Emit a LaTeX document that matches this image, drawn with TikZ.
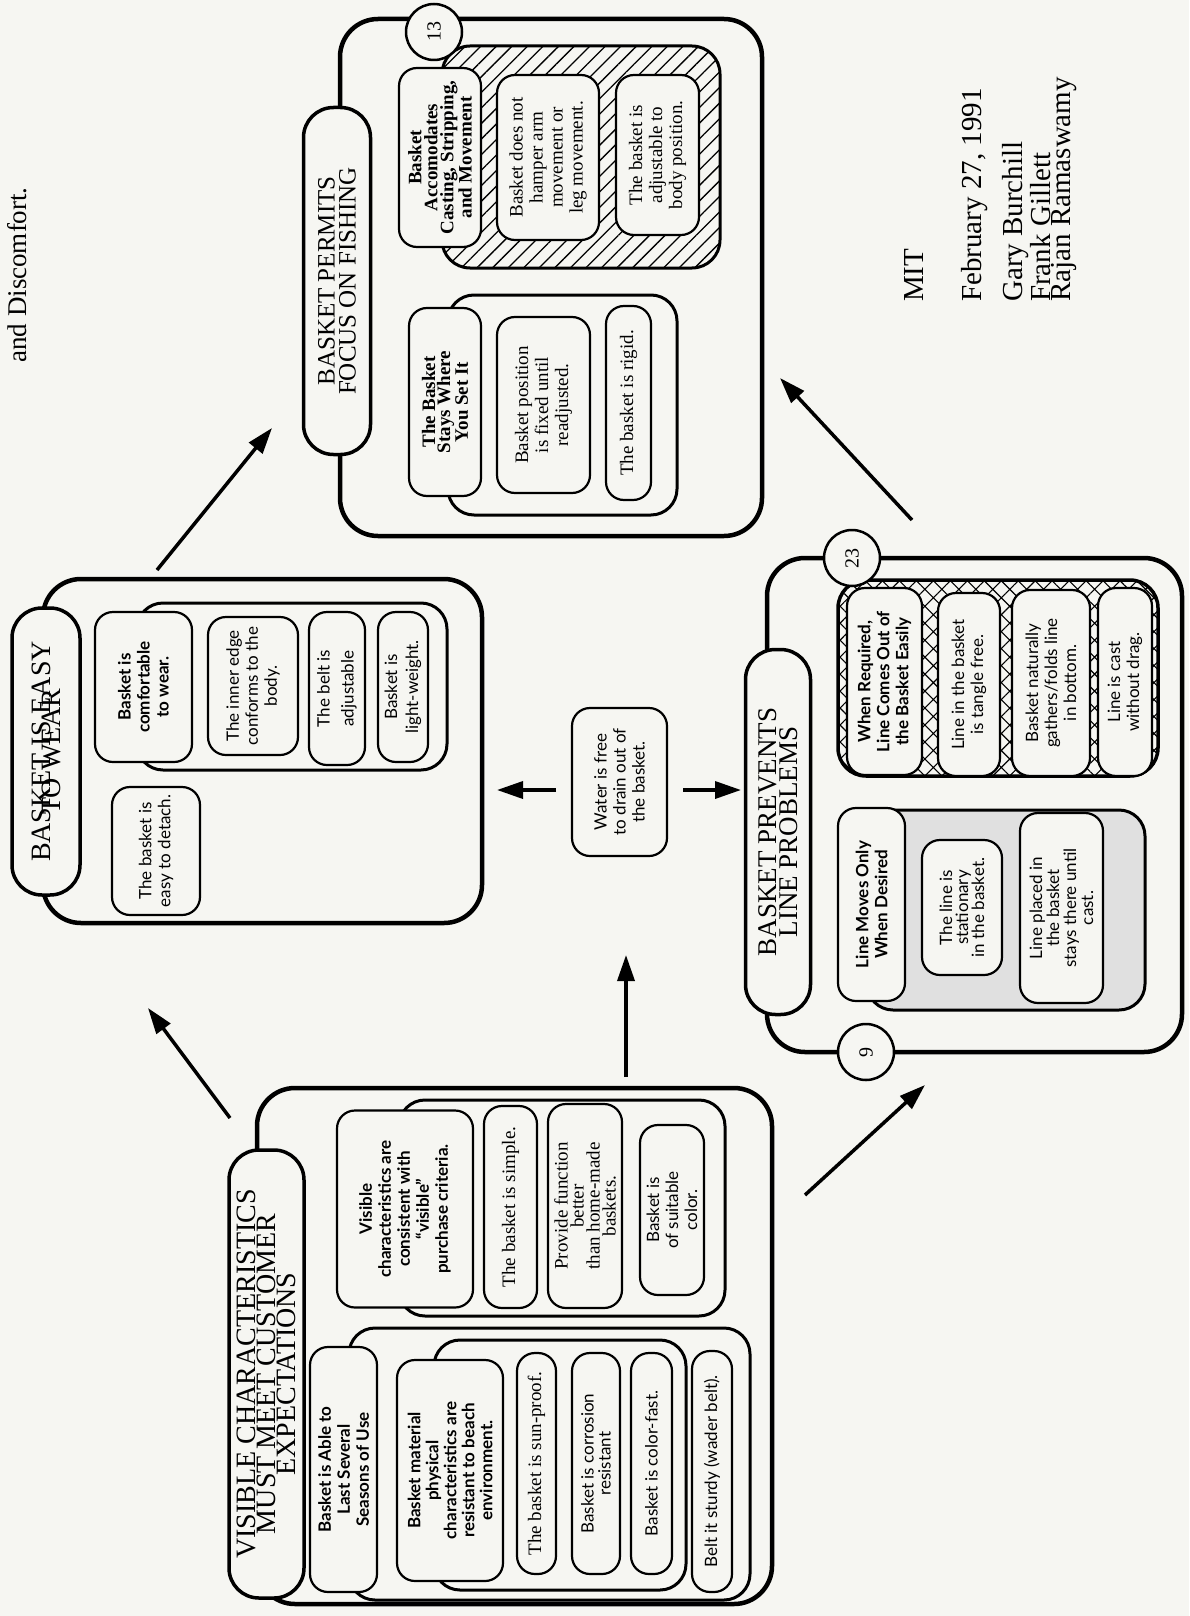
\documentclass[tikz,border=0pt]{standalone}
\usepackage{fontspec}
\setmainfont{Liberation Serif}
\setsansfont{Lato}
\usetikzlibrary{arrows.meta,patterns.meta}
\definecolor{paper}{RGB}{246,246,242}

\begin{document}
\begin{tikzpicture}[
    x=1pt, y=-1pt,
    outerbox/.style={draw, line width=4.5pt, rounded corners=38pt},
    groupbox/.style={draw, line width=3pt, rounded corners=26pt, fill=paper},
    titlebox/.style={draw, line width=3.5pt, rounded corners=30pt, fill=paper, rotate=90,
                     align=center, inner sep=2pt, font=\fontsize{25}{21}\selectfont},
    itembox/.style={draw, line width=2.2pt, rounded corners=18pt, fill=paper, rotate=90,
                    align=center, inner sep=3pt, font=\sffamily\fontsize{17}{19}\selectfont},
    boldbox/.style={itembox, font=\sffamily\bfseries\fontsize{17}{19}\selectfont},
    serifbox/.style={itembox, font=\fontsize{19}{20}\selectfont},
    serifbold/.style={itembox, font=\bfseries\fontsize{19}{16}\selectfont},
    numbox/.style={draw, circle, line width=2.5pt, fill=paper, minimum size=56pt,
                   rotate=90, font=\fontsize{20}{20}\selectfont},
    arrow/.style={line width=3.5pt, -{Triangle[length=26pt, width=17pt]}}
  ]
\fill[paper] (0,0) rectangle (1189,1616);
\useasboundingbox (0,0) rectangle (1189,1616);

% cut-off heading
\node[rotate=90, font=\fontsize{27}{27}\selectfont] (heading) at (17,275) {and Discomfort.};

% basket permits focus on fishing
\node[outerbox, minimum width=422pt, minimum height=517pt] (permits) at (551,277.5) {};
\node[titlebox, minimum width=347pt, minimum height=67pt] (permitsT) at (337,281)
  {BASKET PERMITS\\FOCUS ON FISHING};
\node[draw, line width=3pt, rounded corners=28pt, minimum width=278pt, minimum height=222pt,
      pattern={Lines[angle=45, distance=11pt, line width=1.3pt]}] (castG) at (581,157) {};
\node[groupbox, minimum width=229pt, minimum height=220pt] (staysG) at (562.5,405) {};
\node[serifbold, minimum width=179pt, minimum height=82pt] (cast) at (440,157.5)
  {Basket\\Accomodates\\Casting, Stripping,\\and Movement};
\node[serifbox, minimum width=165pt, minimum height=102pt] (hamper) at (548,157.5)
  {Basket does not\\hamper arm\\movement or\\leg movement.};
\node[serifbox, minimum width=160pt, minimum height=83pt] (adjbody) at (657.5,155)
  {The basket is\\adjustable to\\body position.};
\node[serifbold, font=\bfseries\fontsize{19}{15}\selectfont, minimum width=188pt, minimum height=72pt]
  (stays) at (445,402) {The Basket\\Stays Where\\You Set It};
\node[serifbox, minimum width=176pt, minimum height=93pt] (fixed) at (543.5,405)
  {Basket position\\is fixed until\\readjusted.};
\node[serifbox, minimum width=194pt, minimum height=45pt] (rigid) at (628.5,403)
  {The basket is rigid.};
\node[numbox] (n13) at (434,32) {13};

% basket is easy to wear
\node[outerbox, minimum width=439pt, minimum height=344pt] (wear) at (262.5,751) {};
\node[titlebox, font=\fontsize{28}{21}\selectfont, minimum width=287pt, minimum height=68pt]
  (wearT) at (46,751.5) {BASKET IS EASY\\[-11pt]TO WEAR};
\node[groupbox, minimum width=310pt, minimum height=167pt] (comfG) at (292,686.5) {};
\node[boldbox, minimum width=150pt, minimum height=97pt] (comf) at (143.5,687)
  {Basket is\\comfortable\\to wear.};
\node[itembox, minimum width=138pt, minimum height=90pt] (edge) at (253,686)
  {The inner edge\\conforms to the\\body.};
\node[itembox, minimum width=153pt, minimum height=56pt] (belt) at (337,688.5)
  {The belt is\\[5pt]adjustable};
\node[itembox, minimum width=150pt, minimum height=50pt] (light) at (403,687)
  {Basket is\\[2pt]light-weight.};
\node[itembox, minimum width=128pt, minimum height=88pt] (detach) at (156,851)
  {The basket is\\easy to detach.};

% water
\node[itembox, minimum width=148pt, minimum height=95pt] (water) at (619.5,782)
  {Water is free\\to drain out of\\the basket.};

% basket prevents line problems
\node[outerbox, minimum width=415pt, minimum height=494pt] (line) at (974.5,805) {};
\node[titlebox, font=\fontsize{27}{21}\selectfont, minimum width=365pt, minimum height=65pt]
  (lineT) at (778,832) {BASKET PREVENTS\\LINE PROBLEMS};
\node[draw, line width=3.5pt, rounded corners=28pt, minimum width=320pt, minimum height=196pt,
      pattern={Hatch[angle=45, distance=12pt, line width=1.1pt]}] (reqG) at (998,678) {};
\node[groupbox, fill=black!12, minimum width=278pt, minimum height=200pt] (movesG) at (1006,910) {};
\node[boldbox, minimum width=187pt, minimum height=75pt] (req) at (884.5,681.5)
  {When Required,\\Line Comes Out of\\the Basket Easily};
\node[itembox, minimum width=183pt, minimum height=62pt] (tangle) at (969,684.5)
  {Line in the basket\\is tangle free.};
\node[itembox, minimum width=186pt, minimum height=78pt] (gather) at (1051,683)
  {Basket naturally\\gathers/folds line\\in bottom.};
\node[itembox, minimum width=188pt, minimum height=54pt] (drag) at (1125,682)
  {Line is cast\\without drag.};
\node[boldbox, minimum width=193pt, minimum height=67pt] (moves) at (871.5,904.5)
  {Line Moves Only\\When Desired};
\node[itembox, font=\sffamily\fontsize{17}{16}\selectfont, minimum width=135pt, minimum height=80pt]
  (still) at (962,907.5) {The line is\\stationary\\in the basket.};
\node[itembox, font=\sffamily\fontsize{17}{17}\selectfont, minimum width=190pt, minimum height=83pt]
  (placed) at (1061.5,908) {Line placed in\\the basket\\stays there until\\cast.};
\node[numbox] (n23) at (852,558) {23};
\node[numbox] (n9) at (866,1052) {9};

% visible characteristics
\node[outerbox, minimum width=515pt, minimum height=516pt] (visible) at (514.5,1346) {};
\node[titlebox, font=\fontsize{28}{20}\selectfont, minimum width=448pt, minimum height=75pt]
  (visibleT) at (266.5,1374) {VISIBLE CHARACTERISTICS\\MUST MEET CUSTOMER\\EXPECTATIONS};
\node[groupbox, minimum width=326pt, minimum height=216pt] (critG) at (562,1208) {};
\node[boldbox, minimum width=197pt, minimum height=136pt] (crit) at (405,1209)
  {Visible\\characteristics are\\consistent with\\``visible''\\purchase criteria.};
\node[serifbox, minimum width=202pt, minimum height=53pt] (simple) at (510.5,1207)
  {The basket is simple.};
\node[serifbox, font=\fontsize{19}{16}\selectfont, minimum width=204pt, minimum height=74pt]
  (homemade) at (585,1206) {Provide function\\better\\than home-made\\baskets.};
\node[itembox, minimum width=170pt, minimum height=64pt] (color) at (672,1210)
  {Basket is\\of suitable\\color.};
\node[groupbox, minimum width=401pt, minimum height=272pt] (seasonsG) at (549.5,1464) {};
\node[boldbox, minimum width=245pt, minimum height=67pt] (seasons) at (343.5,1469.5)
  {Basket is Able to\\Last Several\\Seasons of Use};
\node[groupbox, minimum width=252pt, minimum height=250pt] (beachG) at (560,1465) {};
\node[boldbox, font=\sffamily\bfseries\fontsize{17}{18}\selectfont, minimum width=221pt, minimum height=106pt]
  (beach) at (450,1470.5) {Basket material\\physical\\characteristics are\\resistant to beach\\environment.};
\node[serifbox, minimum width=221pt, minimum height=39pt] (sun) at (536.5,1463.5)
  {The basket is sun-proof.};
\node[itembox, font=\sffamily\fontsize{17}{17}\selectfont, minimum width=221pt, minimum height=48pt]
  (rust) at (596,1463.5) {Basket is corrosion\\resistant};
\node[itembox, minimum width=221pt, minimum height=41pt] (fast) at (651.5,1463.5)
  {Basket is color-fast.};
\node[itembox, minimum width=241pt, minimum height=40pt] (sturdy) at (712,1471.5)
  {Belt it sturdy (wader belt).};

% credits
\node[rotate=90, anchor=north west, align=left, inner sep=1pt,
      font=\fontsize{29}{15}\selectfont] (credits) at (903,303)
  {MIT\\[37pt]February 27, 1991\\[14pt]Gary Burchill\\Frank Gillett\\Rajan Ramaswamy};

% arrows
\coordinate (wearOut) at (157,570);
\coordinate (permitsIn) at (272,428);
\coordinate (lineOut) at (912,520);
\coordinate (permitsIn2) at (780,378);
\coordinate (visOut1) at (230,1118);
\coordinate (wearIn) at (148,1008);
\coordinate (visOut2) at (626,1077);
\coordinate (waterIn) at (626,955);
\coordinate (visOut3) at (805,1195);
\coordinate (lineIn) at (925,1085);
\coordinate (waterL) at (556,790);
\coordinate (wearIn2) at (497,790);
\coordinate (waterR) at (683,790);
\coordinate (lineIn2) at (741,790);

\draw[arrow] (wearOut) -- (permitsIn);
\draw[arrow] (lineOut) -- (permitsIn2);
\draw[arrow] (visOut1) -- (wearIn);
\draw[arrow] (visOut2) -- (waterIn);
\draw[arrow] (visOut3) -- (lineIn);
\draw[arrow] (waterL) -- (wearIn2);
\draw[arrow] (waterR) -- (lineIn2);
\end{tikzpicture}
\end{document}
